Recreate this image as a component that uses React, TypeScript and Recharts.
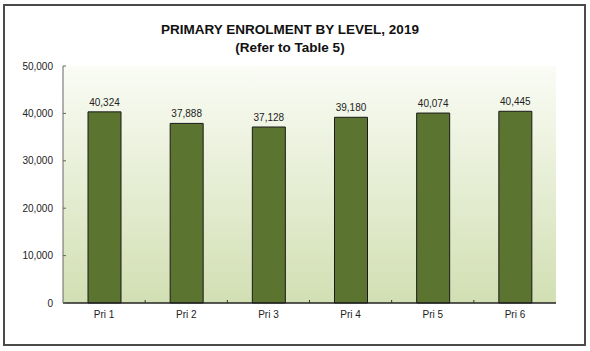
import React from 'react';
import { BarChart, Bar, XAxis, YAxis, CartesianGrid, LabelList } from 'recharts';

const levels = ['Pri 1', 'Pri 2', 'Pri 3', 'Pri 4', 'Pri 5', 'Pri 6'];
const enrolment = [40324, 37888, 37128, 39180, 40074, 40445];
const yTicks = [0, 10000, 20000, 30000, 40000, 50000];

const data = levels.map((level, i) => ({ level, value: enrolment[i] }));

const FONT = "Arial, 'Liberation Sans', sans-serif";
const W = 590;
const H = 351;
const margin = { top: 66, right: 34, bottom: 18, left: 8 };
const yAxisWidth = 55;
// width of one category band on the x axis
const band = (W - margin.left - margin.right - yAxisWidth) / levels.length;

const fmt = (v: number) => v.toLocaleString('en-US');

function XTick(props: any) {
    const { x, y, payload, index } = props;
    return (
        <g>
            <text x={x} y={y + 15} textAnchor="middle" fontSize={10} fill="#222" fontFamily={FONT}>
                {payload.value}
            </text>
            {index < levels.length - 1 && (
                <line x1={x + band / 2} x2={x + band / 2} y1={y} y2={y - 3} stroke="#333" />
            )}
        </g>
    );
}

function YTick(props: any) {
    const { x, y, payload } = props;
    return (
        <g>
            <text x={x - 10} y={y + 3.5} textAnchor="end" fontSize={10} fill="#222" fontFamily={FONT}>
                {fmt(payload.value)}
            </text>
            <line x1={x} x2={x + 3} y1={y} y2={y} stroke="#666" />
        </g>
    );
}

export default function App() {
    return (
        <div style={{ position: 'absolute', left: 0, top: 0, width: W, height: H, background: '#fff' }}>
            <div
                style={{
                    position: 'absolute', left: 3, top: 4, width: 583, height: 342,
                    border: '2px solid #4a4a4a', boxSizing: 'border-box',
                }}
            />
            <div
                style={{
                    position: 'absolute', left: 0, top: 21, width: 580, textAlign: 'center',
                    fontFamily: FONT, fontWeight: 'bold', fontSize: 13.5, lineHeight: '18px', color: '#111',
                }}
            >
                <div>PRIMARY ENROLMENT BY LEVEL, 2019</div>
                <div>(Refer to Table 5)</div>
            </div>
            <div style={{ position: 'absolute', left: 0, top: 0 }}>
                <BarChart width={W} height={H} data={data} margin={margin} barSize={33}>
                    <defs>
                        <linearGradient id="plotBg" x1="0" y1="0" x2="0" y2="1">
                            <stop offset="0%" stopColor="#fafcf5" />
                            <stop offset="100%" stopColor="#d2dfb3" />
                        </linearGradient>
                    </defs>
                    <CartesianGrid horizontal={false} vertical={false} fill="url(#plotBg)" stroke="none" />
                    <XAxis
                        dataKey="level"
                        height={30}
                        axisLine={{ stroke: '#222', strokeWidth: 1.5 }}
                        tickLine={false}
                        tickSize={0}
                        tickMargin={0}
                        tick={<XTick />}
                        interval={0}
                    />
                    <YAxis
                        width={yAxisWidth}
                        domain={[0, 50000]}
                        ticks={yTicks}
                        axisLine={{ stroke: '#666' }}
                        tickLine={false}
                        tickSize={0}
                        tickMargin={0}
                        tick={<YTick />}
                        interval={0}
                    />
                    <Bar dataKey="value" fill="#5b7530" stroke="#1a1a1a" strokeWidth={1} isAnimationActive={false}>
                        <LabelList
                            dataKey="value"
                            position="top"
                            offset={6}
                            formatter={(v: any) => fmt(Number(v))}
                            style={{ fontSize: 10, fill: '#222', fontFamily: FONT }}
                        />
                    </Bar>
                </BarChart>
            </div>
        </div>
    );
}
